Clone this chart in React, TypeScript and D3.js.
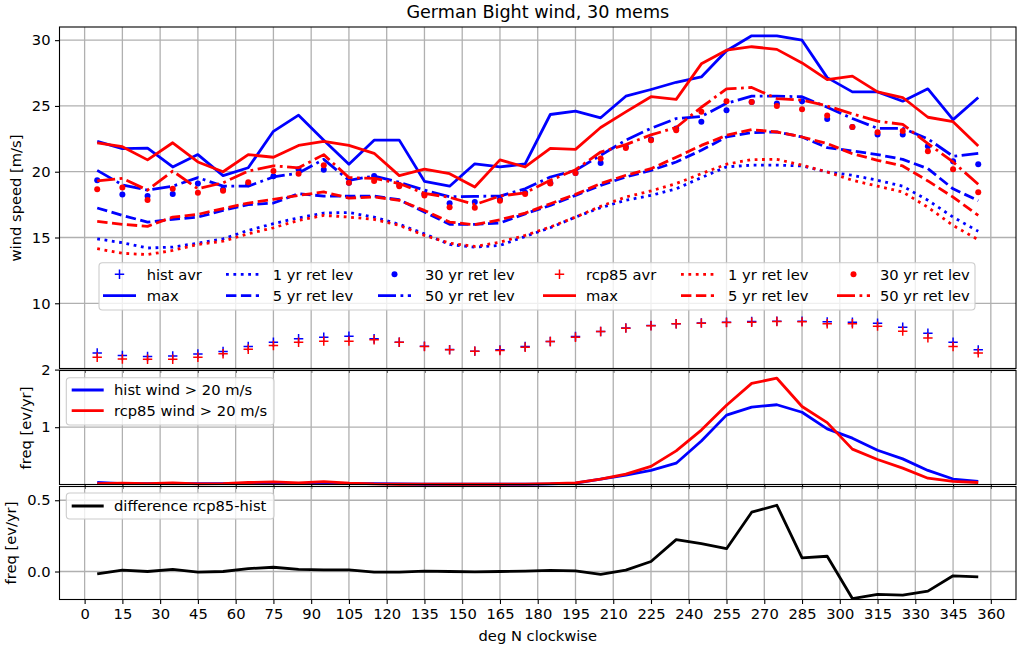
import { useEffect, useRef } from "react";
import * as d3 from "d3";

// direction sector centres, deg N clockwise
const dirs = [5, 15, 25, 35, 45, 55, 65, 75, 85, 95, 105, 115, 125, 135, 145, 155, 165, 175, 185, 195, 205, 215, 225, 235, 245, 255, 265, 275, 285, 295, 305, 315, 325, 335, 345, 355];
const xTicks = d3.range(0, 361, 15);

const histAvr = [6.23, 6.03, 5.95, 6.0, 6.15, 6.33, 6.71, 7.04, 7.3, 7.42, 7.5, 7.3, 7.04, 6.74, 6.48, 6.36, 6.46, 6.71, 7.09, 7.47, 7.85, 8.13, 8.31, 8.44, 8.51, 8.56, 8.61, 8.64, 8.64, 8.59, 8.56, 8.49, 8.18, 7.73, 7.04, 6.46];
const histMax = [22.3, 21.75, 21.8, 20.36, 21.3, 19.7, 20.3, 23.07, 24.3, 22.4, 20.56, 22.4, 22.4, 19.27, 18.9, 20.6, 20.36, 20.6, 24.35, 24.6, 24.1, 25.74, 26.25, 26.8, 27.2, 29.2, 30.33, 30.33, 30.0, 27.15, 26.07, 26.07, 25.36, 26.3, 23.96, 25.64];
const hist1yr = [14.9, 14.6, 14.2, 14.27, 14.57, 14.9, 15.54, 16.05, 16.5, 16.86, 16.9, 16.55, 16.0, 15.28, 14.47, 14.27, 14.4, 15.08, 15.74, 16.55, 17.27, 17.83, 18.2, 18.7, 19.55, 20.37, 20.5, 20.5, 20.44, 19.98, 19.73, 19.35, 18.9, 17.83, 16.55, 15.47];
const hist5yr = [17.24, 16.68, 16.17, 16.38, 16.55, 17.06, 17.5, 17.62, 18.33, 18.15, 18.15, 18.15, 17.87, 16.93, 16.0, 16.0, 16.1, 16.8, 17.44, 18.2, 18.96, 19.6, 20.1, 20.74, 21.63, 22.64, 22.97, 23.02, 22.64, 21.83, 21.58, 21.3, 20.94, 20.23, 18.7, 17.8];
const hist30yr = [19.35, 18.26, 18.15, 18.3, 19.1, 18.64, 19.04, 19.65, 20.18, 20.15, 19.16, 19.67, 19.0, 18.28, 17.6, 17.7, 17.9, 18.4, 19.15, 19.9, 20.66, 21.9, 22.44, 23.28, 23.8, 24.67, 25.3, 25.18, 25.36, 24.0, 23.4, 22.82, 22.82, 21.93, 20.8, 20.57];
const hist50yr = [20.1, 19.0, 18.6, 18.9, 19.55, 18.9, 18.9, 19.6, 19.9, 20.94, 19.35, 19.67, 19.2, 18.6, 18.1, 18.13, 18.15, 18.7, 19.6, 20.1, 21.25, 22.4, 23.3, 24.04, 24.2, 25.2, 25.74, 25.74, 25.7, 24.9, 24.04, 23.3, 23.3, 22.5, 21.17, 21.4];

const rcpAvr = [5.9, 5.77, 5.75, 5.75, 5.9, 6.16, 6.51, 6.79, 7.04, 7.12, 7.12, 7.22, 7.04, 6.71, 6.46, 6.36, 6.41, 6.66, 7.09, 7.42, 7.85, 8.11, 8.29, 8.44, 8.49, 8.54, 8.56, 8.61, 8.59, 8.44, 8.44, 8.26, 7.88, 7.37, 6.71, 6.23];
const rcpMax = [22.2, 21.9, 20.9, 22.2, 20.74, 20.0, 21.3, 21.1, 22.0, 22.3, 22.0, 21.4, 19.7, 20.2, 19.85, 18.84, 20.9, 20.36, 21.78, 21.7, 23.36, 24.55, 25.7, 25.5, 28.2, 29.24, 29.5, 29.3, 28.27, 27.0, 27.27, 26.07, 25.64, 24.14, 23.8, 21.96];
const rcp1yr = [14.15, 13.8, 13.7, 14.02, 14.47, 14.72, 15.28, 15.74, 16.3, 16.68, 16.55, 16.38, 15.92, 15.16, 14.57, 14.32, 14.65, 15.16, 15.8, 16.55, 17.37, 18.08, 18.54, 19.1, 19.85, 20.57, 20.92, 20.94, 20.5, 19.98, 19.35, 18.9, 18.46, 17.3, 15.92, 14.83];
const rcp5yr = [16.22, 16.0, 15.85, 16.55, 16.76, 17.19, 17.62, 17.9, 18.2, 18.46, 18.0, 18.08, 17.83, 17.06, 16.17, 15.97, 16.35, 16.85, 17.57, 18.28, 19.1, 19.73, 20.23, 21.1, 22.0, 22.77, 23.2, 23.02, 22.64, 22.14, 21.37, 20.87, 20.44, 19.3, 18.07, 16.68];
const rcp30yr = [18.66, 18.8, 17.85, 18.7, 18.4, 18.56, 19.2, 20.05, 19.85, 20.5, 19.16, 19.3, 18.9, 18.2, 17.3, 17.27, 17.8, 18.3, 19.1, 19.9, 21.0, 21.8, 22.4, 23.15, 24.55, 25.36, 25.3, 25.0, 24.75, 24.27, 23.4, 23.0, 23.1, 21.55, 20.18, 18.43];
const rcp50yr = [19.3, 19.5, 18.6, 20.05, 18.7, 19.16, 20.05, 20.45, 20.3, 21.3, 19.55, 19.5, 19.1, 18.35, 18.05, 17.5, 18.15, 18.4, 19.35, 20.15, 21.5, 22.06, 22.8, 23.36, 24.9, 26.3, 26.4, 25.56, 25.44, 25.0, 24.4, 23.84, 23.6, 22.14, 20.74, 19.04];

const histFreq = [0.04, 0.02, 0.02, 0.02, 0.02, 0.02, 0.02, 0.02, 0.02, 0.02, 0.02, 0.02, 0.015, 0.01, 0.01, 0.01, 0.01, 0.01, 0.015, 0.03, 0.1, 0.17, 0.25, 0.375, 0.76, 1.21, 1.35, 1.39, 1.26, 0.97, 0.81, 0.6, 0.45, 0.25, 0.1, 0.06];
const rcpFreq = [0.02, 0.03, 0.02, 0.035, 0.015, 0.02, 0.04, 0.05, 0.035, 0.055, 0.03, 0.015, 0.01, 0.013, 0.01, 0.01, 0.01, 0.013, 0.02, 0.035, 0.1, 0.185, 0.32, 0.59, 0.95, 1.38, 1.76, 1.85, 1.36, 1.08, 0.62, 0.44, 0.29, 0.115, 0.06, 0.04];
const freqDiff = [-0.017, 0.01, 0, 0.015, -0.005, 0, 0.02, 0.03, 0.015, 0.012, 0.012, -0.005, -0.005, 0.003, 0, -0.002, 0, 0.003, 0.008, 0.005, -0.02, 0.01, 0.07, 0.224, 0.196, 0.16, 0.416, 0.465, 0.096, 0.107, -0.19, -0.16, -0.166, -0.138, -0.03, -0.037];

const BLUE = "#0000ff";
const RED = "#ff0000";
const FONT = "DejaVu Sans";
const FONT_SIZE = 14.7;
const LW = 2.8;
const DOTTED = "2.8,4.6";
const DASHED = "10.4,4.5";
const DASHDOT = "18,4.5,2.8,4.5";

export default function App() {
  const svgRef = useRef<SVGSVGElement>(null);

  useEffect(() => {
    if (!svgRef.current) return;
    const svg = d3.select(svgRef.current);
    svg.selectAll("*").remove();

    const left = 59.5;
    const right = 1016;
    const x = d3.scaleLinear().domain([-9.9, 370]).range([59.7, right]);

    const panels = [
      { top: 27, bottom: 368.5, y: d3.scaleLinear().domain([5.02, 31]).range([368.8, 27]), ticks: [10, 15, 20, 25, 30], fmt: "d" },
      { top: 370.5, bottom: 484.5, y: d3.scaleLinear().domain([0.014, 2]).range([484, 369.6]), ticks: [1, 2], fmt: "d" },
      { top: 486.5, bottom: 599.5, y: d3.scaleLinear().domain([-0.195, 0.6]).range([599.3, 486]), ticks: [0, 0.5], fmt: ".1f" },
    ];

    // grid and axes for each panel
    panels.forEach((p, i) => {
      const g = svg.append("g");
      g.append("g")
        .selectAll("line")
        .data(xTicks)
        .enter()
        .append("line")
        .attr("x1", d => x(d))
        .attr("x2", d => x(d))
        .attr("y1", p.top)
        .attr("y2", p.bottom)
        .attr("stroke", "#b0b0b0")
        .attr("stroke-width", 1.3);
      g.append("g")
        .selectAll("line")
        .data(p.ticks)
        .enter()
        .append("line")
        .attr("x1", left)
        .attr("x2", right)
        .attr("y1", d => p.y(d))
        .attr("y2", d => p.y(d))
        .attr("stroke", "#b0b0b0")
        .attr("stroke-width", 1.3);

      const xAxis = d3.axisBottom(x).tickValues(xTicks).tickSize(4.5).tickSizeOuter(0);
      if (i < 2) xAxis.tickFormat(() => "");
      const xg = g.append("g").attr("transform", `translate(0,${p.bottom})`).call(xAxis);
      xg.select(".domain").remove();

      const yg = g.append("g")
        .attr("transform", `translate(${left},0)`)
        .call(d3.axisLeft(p.y).tickValues(p.ticks).tickSize(4.5).tickSizeOuter(0).tickFormat(d3.format(p.fmt) as any));
      yg.select(".domain").remove();

      [xg, yg].forEach(a => {
        a.selectAll("line").attr("stroke", "#000").attr("stroke-width", 1.1);
        a.selectAll("text").attr("font-family", FONT).attr("font-size", FONT_SIZE).attr("fill", "#000");
      });
      yg.selectAll("text").attr("dx", "-0.1em");
      xg.selectAll("text").attr("dy", "0.85em");
    });

    const drawLine = (g: any, yScale: any, values: number[], color: string, dash?: string) => {
      const line = d3.line<number>().x((_, i) => x(dirs[i])).y(d => yScale(d));
      g.append("path")
        .attr("d", line(values))
        .attr("fill", "none")
        .attr("stroke", color)
        .attr("stroke-width", LW)
        .attr("stroke-linejoin", "round")
        .attr("stroke-dasharray", dash || null);
    };

    const drawPlus = (g: any, px: number, py: number, color: string) => {
      g.append("path")
        .attr("d", `M${px - 4.7},${py}H${px + 4.7}M${px},${py - 4.7}V${py + 4.7}`)
        .attr("stroke", color)
        .attr("stroke-width", 1.5)
        .attr("fill", "none");
    };

    // top panel
    const y1 = panels[0].y;
    const main = svg.append("g");
    const drawSeries = (avr: number[], max: number[], r1: number[], r5: number[], r30: number[], r50: number[], color: string) => {
      avr.forEach((v, i) => drawPlus(main, x(dirs[i]), y1(v), color));
      drawLine(main, y1, max, color);
      drawLine(main, y1, r1, color, DOTTED);
      drawLine(main, y1, r5, color, DASHED);
      main.append("g")
        .selectAll("circle")
        .data(r30)
        .enter()
        .append("circle")
        .attr("cx", (_, i) => x(dirs[i]))
        .attr("cy", d => y1(d))
        .attr("r", 3)
        .attr("fill", color);
      drawLine(main, y1, r50, color, DASHDOT);
    };
    drawSeries(histAvr, histMax, hist1yr, hist5yr, hist30yr, hist50yr, BLUE);
    drawSeries(rcpAvr, rcpMax, rcp1yr, rcp5yr, rcp30yr, rcp50yr, RED);

    // frequency panels
    const mid = svg.append("g");
    drawLine(mid, panels[1].y, histFreq, BLUE);
    drawLine(mid, panels[1].y, rcpFreq, RED);
    const low = svg.append("g");
    drawLine(low, panels[2].y, freqDiff, "#000");

    // frames on top of the data
    panels.forEach(p => {
      svg.append("rect")
        .attr("x", left)
        .attr("y", p.top)
        .attr("width", right - left)
        .attr("height", p.bottom - p.top)
        .attr("fill", "none")
        .attr("stroke", "#000")
        .attr("stroke-width", 1.1);
    });

    const legendBox = (bx: number, by: number, bw: number, bh: number) => {
      svg.append("rect")
        .attr("x", bx)
        .attr("y", by)
        .attr("width", bw)
        .attr("height", bh)
        .attr("rx", 3.5)
        .attr("fill", "#fff")
        .attr("fill-opacity", 0.8)
        .attr("stroke", "#cccccc")
        .attr("stroke-width", 1.1);
    };

    const legendText = (tx: number, ty: number, label: string) => {
      svg.append("text")
        .attr("x", tx)
        .attr("y", ty)
        .attr("dy", "0.36em")
        .attr("font-family", FONT)
        .attr("font-size", FONT_SIZE)
        .attr("fill", "#000")
        .text(label);
    };

    const legendLine = (hx: number, hy: number, w: number, color: string, dash?: string) => {
      svg.append("line")
        .attr("x1", hx)
        .attr("x2", hx + w)
        .attr("y1", hy)
        .attr("y2", hy)
        .attr("stroke", color)
        .attr("stroke-width", LW)
        .attr("stroke-dasharray", dash || null);
    };

    // big legend, 6 columns and 2 rows
    legendBox(99, 262.7, 876, 47.3);
    const rowA = 274.3;
    const rowB = 295.7;
    const legendGroups = [
      { color: BLUE, avr: "hist avr", hx: [103, 226, 378], tx: [146.7, 272.7, 425] },
      { color: RED, avr: "rcp85 avr", hx: [543, 681, 837], tx: [586, 728, 880] },
    ];
    legendGroups.forEach(l => {
      drawPlus(svg, l.hx[0] + 16.5, rowA, l.color);
      legendText(l.tx[0], rowA, l.avr);
      legendLine(l.hx[0], rowB, 33, l.color);
      legendText(l.tx[0], rowB, "max");
      legendLine(l.hx[1], rowA, 33, l.color, DOTTED);
      legendText(l.tx[1], rowA, "1 yr ret lev");
      legendLine(l.hx[1], rowB, 33, l.color, DASHED);
      legendText(l.tx[1], rowB, "5 yr ret lev");
      svg.append("circle").attr("cx", l.hx[2] + 16.5).attr("cy", rowA).attr("r", 3).attr("fill", l.color);
      legendText(l.tx[2], rowA, "30 yr ret lev");
      legendLine(l.hx[2], rowB, 33, l.color, DASHDOT);
      legendText(l.tx[2], rowB, "50 yr ret lev");
    });

    legendBox(66.3, 377.7, 207.7, 47.3);
    legendLine(71.7, 390, 32, BLUE);
    legendText(114, 390, "hist wind > 20 m/s");
    legendLine(71.7, 410.7, 32, RED);
    legendText(114, 410.7, "rcp85 wind > 20 m/s");

    legendBox(66.3, 493, 207.7, 26);
    legendLine(71.7, 506, 32, "#000");
    legendText(114, 506, "difference rcp85-hist");

    // titles
    const label = (tx: number, ty: number, text: string, size: number, rotate?: boolean) => {
      svg.append("text")
        .attr("transform", `translate(${tx},${ty})${rotate ? " rotate(-90)" : ""}`)
        .attr("text-anchor", "middle")
        .attr("font-family", FONT)
        .attr("font-size", size)
        .attr("fill", "#000")
        .text(text);
    };
    label(537.8, 18, "German Bight wind, 30 mems", 17.6);
    label(537.8, 641, "deg N clockwise", FONT_SIZE);
    label(21, 198, "wind speed [m/s]", FONT_SIZE, true);
    label(31, 428, "freq [ev/yr]", FONT_SIZE, true);
    label(16, 543, "freq [ev/yr]", FONT_SIZE, true);
  }, []);

  return (
    <svg
      ref={svgRef}
      width={1021}
      height={650}
      style={{ position: "absolute", left: 0, top: 0, background: "#fff" }}
    />
  );
}
